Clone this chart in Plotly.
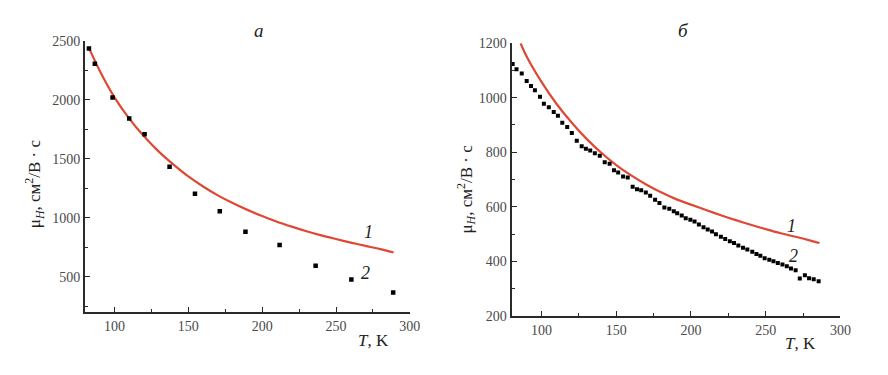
import plotly.graph_objects as go

W, H = 888, 375

# ---- panel a ----
T_a_fit = [83, 90, 100, 110, 120, 130, 140, 150, 160, 170, 180, 190, 200, 210, 220, 230, 240, 250, 260, 270, 280, 289]
mu_a_fit = [2430, 2245, 2020, 1840, 1690, 1560, 1450, 1350, 1265, 1190, 1125, 1067, 1015, 967, 925, 886, 851, 820, 790, 762, 735, 706]
T_a_exp = [82.7, 86.7, 98.7, 110.0, 120.4, 137.3, 154.5, 171.3, 188.7, 211.8, 236.2, 260.4, 288.7]
mu_a_exp = [2433, 2303, 2019, 1840, 1707, 1431, 1204, 1055, 882, 769, 593, 477, 368]

# ---- panel b ----
T_b_fit = [86, 90, 100, 110, 120, 130, 140, 150, 160, 170, 180, 190, 200, 210, 220, 230, 240, 250, 260, 270, 280, 286]
mu_b_fit = [1200, 1152, 1058, 978, 910, 850, 798, 753, 715, 682, 653, 628, 608, 588, 569, 551, 534, 518, 503, 490, 476, 467]
T_b_exp = [80.7, 83.3, 86.8, 90.1, 93.0, 95.6, 99.0, 101.6, 104.9, 108.2, 111.0, 113.9, 117.2, 120.3,
           123.6, 126.9, 129.7, 132.6, 135.7, 139.0, 142.3, 145.6, 148.5, 151.3, 154.6, 157.7, 161.0,
           163.9, 166.7, 169.8, 172.7, 176.0, 178.9, 182.2, 185.5, 188.5, 190.8, 193.8, 196.5, 199.6,
           202.4, 205.3, 208.4, 211.2, 214.1, 216.7, 220.0, 222.9, 226.0, 228.8, 231.7, 234.8, 237.7,
           241.0, 243.8, 246.4, 249.3, 252.4, 255.2, 258.1, 261.2, 264.1, 266.9, 270.0, 272.8, 276.2,
           279.0, 282.1, 285.4]
mu_b_exp = [1124, 1104, 1089, 1061, 1043, 1027, 1004, 978, 965, 948, 934, 908, 893, 871,
            842, 822, 813, 806, 796, 787, 763, 758, 734, 726, 711, 707, 673,
            664, 661, 652, 640, 626, 614, 597, 593, 584, 576, 568, 558, 552,
            546, 535, 525, 517, 509, 499, 490, 482, 474, 467, 458, 450, 443,
            435, 427, 420, 411, 406, 400, 394, 388, 382, 374, 367, 337, 349,
            338, 334, 327]

x_ticks = [100, 150, 200, 250, 300]
y_ticks_a = [500, 1000, 1500, 2000, 2500]
y_ticks_b = [200, 400, 600, 800, 1000, 1200]

RED = "rgb(222,72,52)"
AX = "#2a2a2a"
TXT = "#4a4a4a"
FONT = "Liberation Serif"

fig = go.Figure()
fig.add_trace(go.Scatter(x=T_a_fit, y=mu_a_fit, mode="lines", line=dict(color=RED, width=2.2, shape="spline", smoothing=0.8),
                         xaxis="x", yaxis="y", showlegend=False))
fig.add_trace(go.Scatter(x=T_a_exp, y=mu_a_exp, mode="markers",
                         marker=dict(symbol="square", size=4.5, color="black"),
                         xaxis="x", yaxis="y", showlegend=False))
fig.add_trace(go.Scatter(x=T_b_fit, y=mu_b_fit, mode="lines", line=dict(color=RED, width=2.2, shape="spline", smoothing=0.8),
                         xaxis="x2", yaxis="y2", showlegend=False))
fig.add_trace(go.Scatter(x=T_b_exp, y=mu_b_exp, mode="markers",
                         marker=dict(symbol="square", size=4, color="black"),
                         xaxis="x2", yaxis="y2", showlegend=False))


def px(x):
    return x / W


def py(y):
    return 1 - y / H


common = dict(showline=True, linecolor=AX, linewidth=2, ticks="inside", ticklen=5, tickwidth=1.3,
              tickcolor=AX, showgrid=False, zeroline=False,
              tickfont=dict(family=FONT, size=14, color=TXT))

fig.update_layout(
    width=W, height=H, margin=dict(l=0, r=0, t=0, b=0, pad=0), autosize=False,
    paper_bgcolor="white", plot_bgcolor="white",
    xaxis=dict(domain=[px(86), px(415)], range=[80, 300], tickvals=x_ticks, anchor="y",
               minor=dict(dtick=25, tick0=0, ticks="inside", ticklen=3, tickcolor=AX), **common),
    yaxis=dict(domain=[py(318), py(35)], range=[200, 2500], tickvals=y_ticks_a, anchor="x",
               minor=dict(dtick=250, tick0=0, ticks="inside", ticklen=3, tickcolor=AX), **common),
    xaxis2=dict(domain=[px(518), px(851)], range=[80, 300], tickvals=x_ticks, anchor="y2",
                minor=dict(dtick=25, tick0=0, ticks="inside", ticklen=3, tickcolor=AX), **common),
    yaxis2=dict(domain=[py(321.7), py(37.7)], range=[200, 1200], tickvals=y_ticks_b, anchor="x2",
                minor=dict(dtick=100, tick0=0, ticks="inside", ticklen=3, tickcolor=AX), **common),
)

ylab = "μ<sub><i>H</i></sub>, см<sup>2</sup>/В · с"
ann_font = dict(family=FONT, size=17, color="#222")
anns = [
    dict(x=px(35), y=py(184), text=ylab, textangle=-90),
    dict(x=px(472), y=py(190), text=ylab, textangle=-90),
    dict(x=px(378), y=py(347), text="<i>T</i>, K"),
    dict(x=px(811), y=py(350), text="<i>T</i>, K"),
    dict(x=px(262), y=py(25), text="<i>а</i>", font=dict(family=FONT, size=19, color="#222")),
    dict(x=px(692), y=py(25), text="<i>б</i>", font=dict(family=FONT, size=19, color="#222")),
]
for a in anns:
    a.setdefault("font", ann_font)
    fig.add_annotation(xref="paper", yref="paper", showarrow=False, xanchor="center", yanchor="middle", **a)

# curve labels (data coordinates)
lbl_font = dict(family=FONT, size=18, color="#222")
fig.add_annotation(x=272, y=877, xref="x", yref="y", text="<i>1</i>", showarrow=False, font=lbl_font)
fig.add_annotation(x=270, y=536, xref="x", yref="y", text="<i>2</i>", showarrow=False, font=lbl_font)
fig.add_annotation(x=267.4, y=531, xref="x2", yref="y2", text="<i>1</i>", showarrow=False, font=lbl_font)
fig.add_annotation(x=268.3, y=421, xref="x2", yref="y2", text="<i>2</i>", showarrow=False, font=lbl_font)

fig.write_html("out.html", config={"displayModeBar": False},
               post_script="document.body.style.margin='0';document.body.style.overflow='hidden';")
